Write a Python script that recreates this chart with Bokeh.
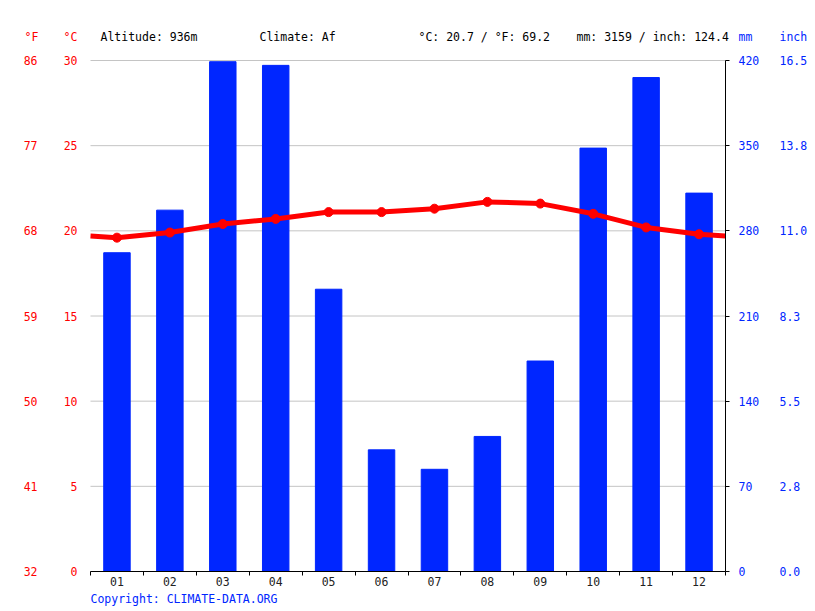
from bokeh.plotting import figure
from bokeh.models import Range1d, LinearAxis, FixedTicker
from bokeh.core.properties import value
from bokeh.embed import file_html
from bokeh.resources import INLINE

months = ["01", "02", "03", "04", "05", "06", "07", "08", "09", "10", "11", "12"]
precip_mm = [262, 297, 419, 416, 232, 100, 84, 111, 173, 348, 406, 311]
temp_c = [19.6, 19.9, 20.4, 20.7, 21.1, 21.1, 21.3, 21.7, 21.6, 21.0, 20.2, 19.8]
c_ticks = [0, 5, 10, 15, 20, 25, 30]
f_labels = ["32", "41", "50", "59", "68", "77", "86"]
mm_ticks = [0, 70, 140, 210, 280, 350, 420]
inch_labels = ["0.0", "2.8", "5.5", "8.3", "11.0", "13.8", "16.5"]
header = ["Altitude: 936m", "Climate: Af", "°C: 20.7 / °F: 69.2", "mm: 3159 / inch: 124.4"]
unit_titles = ["°F", "°C", "mm", "inch"]
copyright_text = "Copyright: CLIMATE-DATA.ORG"

FONT = "DejaVu Sans Mono"
FS = "11.5px"
RED = "#ff0000"
BLUE = "#0026ff"

n = len(months)
centers = [i + 0.5 for i in range(n)]
bounds = list(range(n + 1))

# canvas and plot-area geometry (pixels)
W, H = 810, 608
FL, FR, FT, FB = 90, 725, 60, 571
T_MAX, MM_MAX = 30, 420

sx = (FR - FL) / n
sy = (FB - FT) / T_MAX
x_range = Range1d(-FL / sx, n + (W - FR) / sx)
y_range = Range1d(-(H - FB) / sy, T_MAX + FT / sy)
k = MM_MAX / T_MAX
mm_range = Range1d(y_range.start * k, y_range.end * k)


def px_x(px):
    return (px - FL) / sx


def px_y(py):
    return T_MAX - (py - FT) / sy


p = figure(width=W, height=H, output_backend="svg", toolbar_location=None,
           x_range=x_range, y_range=y_range, min_border=0,
           x_axis_type=None, y_axis_type=None)
p.outline_line_color = None
p.xgrid.visible = False
p.ygrid.visible = False
p.extra_y_ranges = {"mm": mm_range}

# horizontal grid lines across the plot area
p.segment(x0=[0] * len(c_ticks), x1=[n] * len(c_ticks), y0=c_ticks, y1=c_ticks,
          line_color="#c4c4c4", line_width=1)

# precipitation bars
p.vbar(x=centers, top=precip_mm, width=0.5, color=BLUE, y_range_name="mm")

# temperature line, wrapping to the edges
edge = (temp_c[0] + temp_c[-1]) / 2
p.line([0] + centers + [n], [edge] + temp_c + [edge], line_color=RED, line_width=5)
p.scatter(centers, temp_c, size=9, color=RED)

# x axis
xa = LinearAxis(ticker=FixedTicker(ticks=centers, minor_ticks=bounds),
                major_label_overrides={c: m for c, m in zip(centers, months)},
                fixed_location=0, bounds=(0, n))
xa.major_tick_out = 0
xa.major_tick_in = 0
xa.minor_tick_out = 4
xa.minor_tick_in = 0
xa.minor_tick_line_color = "black"
xa.axis_line_color = "black"
xa.major_label_standoff = 1
xa.major_label_text_font = FONT
xa.major_label_text_font_size = FS
xa.major_label_text_color = "#222222"
p.add_layout(xa, "below")


def style_y(ax, color, standoff, tick_out=0):
    ax.major_tick_out = tick_out
    ax.major_tick_in = 0
    ax.minor_tick_out = 0
    ax.minor_tick_in = 0
    ax.major_tick_line_color = "black" if tick_out else None
    ax.axis_line_color = None
    ax.major_label_standoff = standoff
    ax.major_label_text_font = FONT
    ax.major_label_text_font_size = FS
    ax.major_label_text_color = color


ca = LinearAxis(ticker=FixedTicker(ticks=c_ticks), fixed_location=0, bounds=(0, T_MAX))
style_y(ca, RED, 13)
fa = LinearAxis(ticker=FixedTicker(ticks=c_ticks), fixed_location=0, bounds=(0, T_MAX),
                major_label_overrides={t: l for t, l in zip(c_ticks, f_labels)})
style_y(fa, RED, 53)
p.add_layout(ca, "left")
p.add_layout(fa, "left")

ma = LinearAxis(y_range_name="mm", ticker=FixedTicker(ticks=mm_ticks), fixed_location=n,
                bounds=(0, MM_MAX))
style_y(ma, BLUE, 9, tick_out=4)
ma.axis_line_color = "black"
ia = LinearAxis(y_range_name="mm", ticker=FixedTicker(ticks=mm_ticks), fixed_location=n,
                bounds=(0, MM_MAX),
                major_label_overrides={t: l for t, l in zip(mm_ticks, inch_labels)})
style_y(ia, BLUE, 54)
p.add_layout(ma, "right")
p.add_layout(ia, "right")

# header texts
ty = px_y(36)
p.text(x=[px_x(31), px_x(70)], y=[ty, ty], text=unit_titles[:2], text_color=RED,
       text_align="center", text_baseline="middle", text_font=value(FONT), text_font_size=FS)
p.text(x=[px_x(738), px_x(779)], y=[ty, ty], text=unit_titles[2:], text_color=BLUE,
       text_align="left", text_baseline="middle", text_font=value(FONT), text_font_size=FS)
p.text(x=[px_x(v) for v in (100, 259, 418, 576)], y=[ty] * 4, text=header, text_color="black",
       text_align="left", text_baseline="middle", text_font=value(FONT), text_font_size=FS)

# footer
p.text(x=[0], y=[px_y(598)], text=[copyright_text], text_color=BLUE, text_align="left",
       text_baseline="middle", text_font=value(FONT), text_font_size=FS)

open("out.html", "w").write(file_html(p, INLINE))
